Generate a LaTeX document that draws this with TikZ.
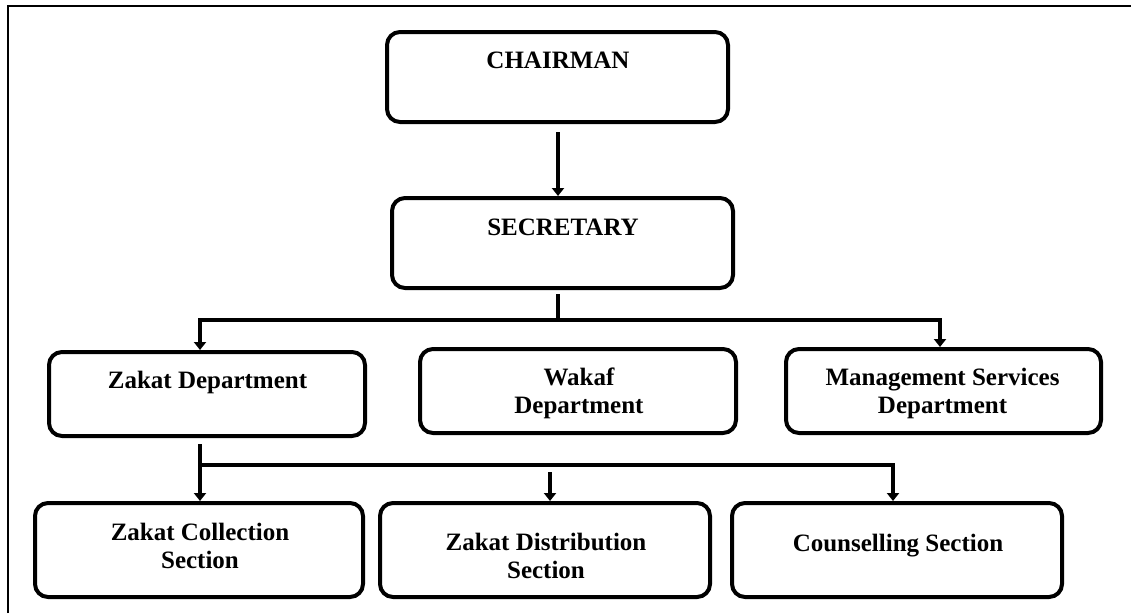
\documentclass[tikz,border=0pt]{standalone}
\usepackage{fontspec}
\setmainfont{Liberation Serif}
\usetikzlibrary{arrows.meta}
\begin{document}
\begin{tikzpicture}[x=1pt,y=-1pt,
  box/.style={draw, line width=4pt, rounded corners=13pt, inner sep=0pt},
  lbl/.style={font=\bfseries\fontsize{25}{28}\selectfont, align=center, anchor=base, inner sep=0pt},
  conn/.style={line width=3.5pt, line cap=rect},
  arr/.style={line width=3.5pt, -{Triangle[width=12pt,length=8pt]}},
  frame/.style={line width=1.5pt}]
\useasboundingbox (0,0) rectangle (1131,613);
% outer frame
\coordinate (fb) at (8,613);
\coordinate (fc) at (8,6);
\coordinate (fr) at (1131,6);
\draw[frame] (fb) -- (fc) -- (fr);

% boxes
\node[box, minimum width=341pt, minimum height=90pt] (chair) at (557.5,77) {};
\node[lbl] (chairT) at (558,68) {CHAIRMAN};
\node[box, minimum width=341pt, minimum height=90pt] (sec) at (562.5,243) {};
\node[lbl] (secT) at (563,235) {SECRETARY};

\node[box, minimum width=316pt, minimum height=84pt] (zd) at (207,394) {};
\node[lbl] (zdT) at (207.5,388) {Zakat Department};
\node[box, minimum width=316pt, minimum height=84pt] (wd) at (578,391) {};
\node[lbl] (wdT) at (579,413) {Wakaf\\Department};
\node[box, minimum width=315pt, minimum height=84pt] (md) at (943.5,391) {};
\node[lbl] (mdT) at (942.5,413) {Management Services\\Department};

\node[box, minimum width=328pt, minimum height=94pt] (zc) at (199,550) {};
\node[lbl] (zcT) at (200,568) {Zakat Collection\\Section};
\node[box, minimum width=330pt, minimum height=94pt] (zdi) at (545,550) {};
\node[lbl] (zdiT) at (546,578) {Zakat Distribution\\Section};
\node[box, minimum width=330pt, minimum height=94pt] (cs) at (897,550) {};
\node[lbl] (csT) at (898,551) {Counselling Section};

% connectors
\coordinate (c1) at (558,132);
\draw[arr] (c1) -- (c1 |- sec.north);

\coordinate (s0) at (558,296);
\coordinate (s1) at (558,320);
\coordinate (sL) at (200,320);
\coordinate (sR) at (940,320);
\draw[conn] (s0) -- (s1);
\draw[conn] (sL) -- (sR);
\draw[arr] (sL) -- (zd.north -| sL);
\draw[arr] (sR) -- (md.north -| sR);

\coordinate (z0) at (200,444);
\coordinate (z1) at (200,465);
\coordinate (zR) at (893,465);
\coordinate (zM) at (550,472);
\draw[arr] (z0) -- (zc.north -| z0);
\draw[conn] (z1) -- (zR);
\draw[arr] (zR) -- (cs.north -| zR);
\draw[arr] (zM) -- (zdi.north -| zM);
\end{tikzpicture}
\end{document}
